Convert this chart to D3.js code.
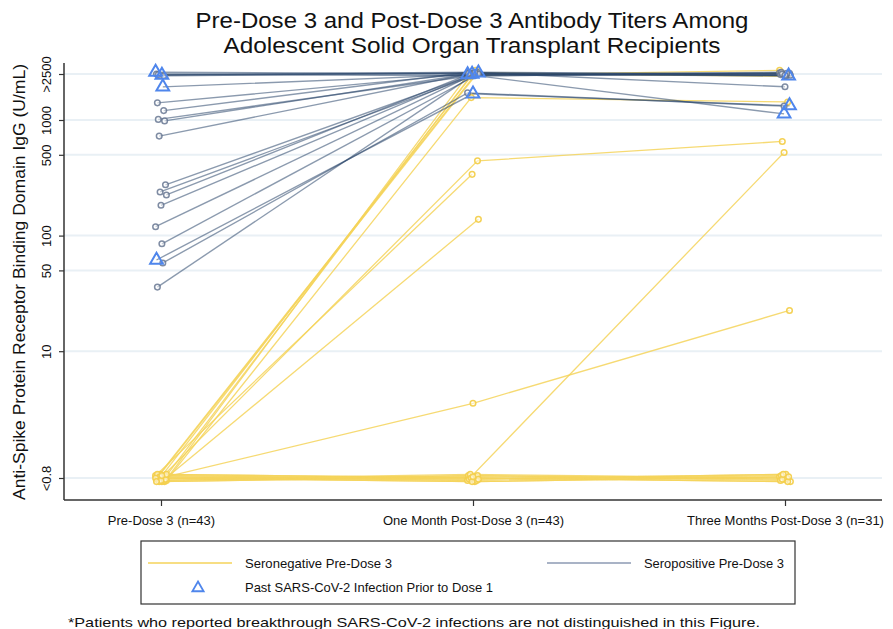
<!DOCTYPE html>
<html>
<head>
<meta charset="utf-8">
<script src="https://cdn.jsdelivr.net/npm/d3@7"></script>
<style>
  html, body { margin: 0; padding: 0; background: #fff; }
  svg { display: block; font-family: "Liberation Sans", Arial, Helvetica, sans-serif; }
</style>
</head>
<body>
<svg id="chart" width="893" height="629"></svg>
<script>
// Time points on the x axis
const timepoints = ["Pre-Dose 3 (n=43)", "One Month Post-Dose 3 (n=43)", "Three Months Post-Dose 3 (n=31)"];

// Y axis ticks (U/mL) and their printed labels
const yTickValues = [0.8, 10, 50, 100, 500, 1000, 2500];
const yTickLabels = ["<0.8", "10", "50", "100", "500", "1000", ">2500"];

// Seropositive pre-dose 3 patients: titers at each time point (null = not measured)
const posPre      = [2500, 2500, 2500, 1890, 1458, 1220, 1000, 948, 743, 275, 233, 233, 185, 118, 82, 63, 58, 35, 2500, 2500];
const posOneMonth = [2500, 2500, 2500, 2500, 2500, 2500, 2500, 2500, 2500, 2500, 2500, 2500, 2500, 2500, 2500, 1645, 1780, 2500, 2500, 2500];
const posThree    = [2500, null, 2500, 1089, 2500, 1937, 2500, 2500, 2500, 2500, 2500, null, 2500, null, null, 1346, 1302, null, 2500, null];
const posPriorInfection = [true, true, false, true, false, false, false, false, false, false, false, false, false, false, false, true, false, false, false, false];

// Seronegative pre-dose 3 patients
const negPre      = [0.8, 0.8, 0.8, 0.8, 0.8, 0.8, 0.8, 0.8, 0.8, 0.8, 0.8, 0.8, 0.8, 0.8, 0.8, 0.8, 0.8, 0.8, 0.8, 0.8, 0.8, 0.8, 0.8];
const negOneMonth = [2500, 2500, 2500, 2500, 2500, 1490, 476, 347, 135, 3.3, 0.8, 0.8, 0.8, 0.8, 0.8, 0.8, 0.8, 0.8, 0.8, 0.8, 0.8, 0.8, 0.8];
const negThree    = [2500, 2500, null, null, null, 1467, 637, null, null, 22.5, 499, 0.8, 0.8, 0.8, 0.8, 0.8, 0.8, 0.8, 0.8, 0.8, 0.8, 0.8, null];

// Legend entries
const legendLabels = ["Seronegative Pre-Dose 3", "Seropositive Pre-Dose 3", "Past SARS-CoV-2 Infection Prior to Dose 1"];

const colNeg = "#F5D35A";
const colPos = "#2C476C";
const colTri = "#4F86EC";

const svg = d3.select("#chart");

const plot = { left: 64, right: 882, top: 63, bottom: 500 };

const x = d3.scalePoint().domain(timepoints).range([161, 785]);
const y = d3.scaleLog().domain([0.8, 2500]).range([478, 74]);

// Gridlines
svg.append("g").selectAll("line")
  .data(yTickValues)
  .join("line")
  .attr("x1", plot.left).attr("x2", plot.right)
  .attr("y1", d => y(d)).attr("y2", d => y(d))
  .attr("stroke", "#E9F0F5").attr("stroke-width", 2);

// Build patient records from the arrays
function build(pre, one, three, prior, group) {
  return pre.map((v, i) => ({
    group,
    prior: prior ? prior[i] : false,
    values: [v, one[i], three[i]],
    idx: i
  }));
}
const negPatients = build(negPre, negOneMonth, negThree, null, "neg");
const posPatients = build(posPre, posOneMonth, posThree, posPriorInfection, "pos");

// Small deterministic jitter so overlapping patients stay visible
function jx(p, t) { return (((p.idx * 7 + t * 5 + (p.group === "neg" ? 3 : 0)) % 13) - 6) * 0.9; }
function jy(p, t) {
  const k = (((p.idx * 5 + t * 3 + (p.group === "neg" ? 1 : 0)) % 7) - 3);
  return p.group === "neg" ? k * 1.2 : k * 0.6;
}

function points(p) {
  return p.values.map((v, t) => v == null ? null : { x: x(timepoints[t]) + jx(p, t), y: y(v) + jy(p, t) })
                 .filter(d => d);
}

const line = d3.line().x(d => d.x).y(d => d.y);

// Lines: seronegative first, seropositive on top
svg.append("g").selectAll("path")
  .data(negPatients)
  .join("path")
  .attr("d", p => line(points(p)))
  .attr("fill", "none").attr("stroke", colNeg).attr("stroke-width", 1.3).attr("stroke-opacity", 0.85);

svg.append("g").selectAll("path")
  .data(posPatients)
  .join("path")
  .attr("d", p => line(points(p)))
  .attr("fill", "none").attr("stroke", colPos).attr("stroke-width", 1.4).attr("stroke-opacity", 0.55);

// Circle markers
function circles(patients, color, opacity) {
  const pts = [];
  patients.forEach(p => { if (!p.prior) points(p).forEach(d => pts.push(d)); });
  svg.append("g").selectAll("circle")
    .data(pts)
    .join("circle")
    .attr("cx", d => d.x).attr("cy", d => d.y).attr("r", 2.8)
    .attr("fill", "#fff").attr("fill-opacity", 0.5)
    .attr("stroke", color).attr("stroke-width", 1.5).attr("stroke-opacity", opacity);
}
circles(negPatients, "#F3CF4C", 0.95);
circles(posPatients, "#5F6F8C", 0.8);

// Triangle markers for prior infection
const tri = d3.symbol().type(d3.symbolTriangle).size(70);
const triPts = [];
posPatients.forEach(p => { if (p.prior) points(p).forEach(d => triPts.push(d)); });
svg.append("g").selectAll("path")
  .data(triPts)
  .join("path")
  .attr("transform", d => `translate(${d.x},${d.y})`)
  .attr("d", tri)
  .attr("fill", "none")
  .attr("stroke", colTri).attr("stroke-width", 2);

// Axes
const xAxis = d3.axisBottom(x).tickSize(6).tickSizeOuter(0);
const gx = svg.append("g").attr("transform", `translate(0,${plot.bottom})`).call(xAxis);
gx.select(".domain").remove();
gx.append("line").attr("x1", plot.left).attr("x2", plot.right).attr("stroke", "#333").attr("stroke-width", 1.5);
gx.selectAll(".tick line").attr("stroke", "#333").attr("stroke-width", 1.2);
gx.selectAll(".tick text").attr("font-size", 13).attr("fill", "#111").attr("dy", "1.25em")
  .style("font-family", "Liberation Sans, Arial, sans-serif");

const yAxis = d3.axisLeft(y).tickValues(yTickValues)
  .tickFormat((d, i) => yTickLabels[i]).tickSize(5).tickSizeOuter(0);
const gy = svg.append("g").attr("transform", `translate(${plot.left},0)`).call(yAxis);
gy.select(".domain").remove();
gy.append("line").attr("y1", plot.top).attr("y2", plot.bottom).attr("stroke", "#333").attr("stroke-width", 1.5);
gy.selectAll(".tick line").attr("stroke", "#333").attr("stroke-width", 1.2);
gy.selectAll(".tick text")
  .attr("transform", "rotate(-90)")
  .attr("x", 0).attr("y", -13).attr("dy", 0)
  .attr("text-anchor", "middle")
  .attr("font-size", 13).attr("fill", "#111")
  .style("font-family", "Liberation Sans, Arial, sans-serif");

// Y axis title
svg.append("text")
  .attr("transform", "translate(25,282) rotate(-90)")
  .attr("text-anchor", "middle")
  .attr("font-size", 17).attr("fill", "#111")
  .attr("textLength", 436).attr("lengthAdjust", "spacingAndGlyphs")
  .text("Anti-Spike Protein Receptor Binding Domain IgG (U/mL)");

// Title
const titleLines = ["Pre-Dose 3 and Post-Dose 3 Antibody Titers Among", "Adolescent Solid Organ Transplant Recipients"];
const titleWidths = [553, 497];
svg.append("g").selectAll("text")
  .data(titleLines)
  .join("text")
  .attr("x", 472).attr("y", (d, i) => 28 + i * 25)
  .attr("text-anchor", "middle")
  .attr("font-size", 22).attr("fill", "#111")
  .style("font-family", "'Liberation Sans Narrow', 'Arial Narrow', 'Liberation Sans', Arial, sans-serif")
  .attr("textLength", (d, i) => titleWidths[i]).attr("lengthAdjust", "spacingAndGlyphs")
  .text(d => d);

// Legend
const lg = svg.append("g");
lg.append("rect").attr("x", 141).attr("y", 541).attr("width", 654).attr("height", 63)
  .attr("fill", "#fff").attr("stroke", "#333").attr("stroke-width", 1.2);
lg.append("line").attr("x1", 148).attr("x2", 232).attr("y1", 563).attr("y2", 563)
  .attr("stroke", colNeg).attr("stroke-width", 1.3);
lg.append("line").attr("x1", 547).attr("x2", 631).attr("y1", 563).attr("y2", 563)
  .attr("stroke", "#8C9AB3").attr("stroke-width", 1.3);
lg.append("path").attr("transform", "translate(198,588)")
  .attr("d", d3.symbol().type(d3.symbolTriangle).size(55))
  .attr("fill", "none").attr("stroke", colTri).attr("stroke-width", 1.8);
const legendPos = [[245, 568], [644, 568], [245, 592]];
const legendWidths = [147, 140, 248];
lg.selectAll("text.lbl")
  .data(legendLabels)
  .join("text")
  .attr("class", "lbl")
  .attr("x", (d, i) => legendPos[i][0]).attr("y", (d, i) => legendPos[i][1])
  .attr("font-size", 13.5).attr("fill", "#111")
  .attr("textLength", (d, i) => legendWidths[i]).attr("lengthAdjust", "spacingAndGlyphs")
  .text(d => d);

// Footnote
svg.append("text")
  .attr("x", 68).attr("y", 627)
  .attr("font-size", 13.5).attr("fill", "#111")
  .attr("textLength", 692).attr("lengthAdjust", "spacingAndGlyphs")
  .text("*Patients who reported breakthrough SARS-CoV-2 infections are not distinguished in this Figure.");
</script>
</body>
</html>
